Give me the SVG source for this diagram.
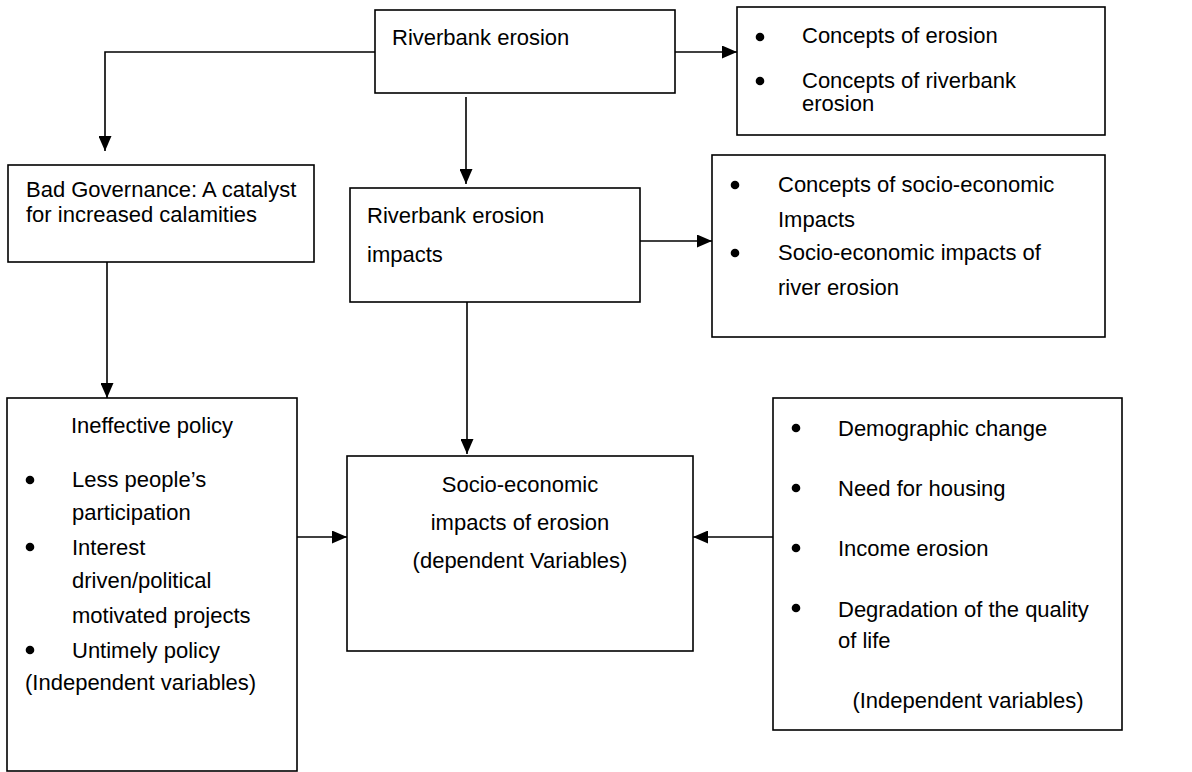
<svg xmlns="http://www.w3.org/2000/svg" width="1192" height="772" viewBox="0 0 1192 772">
<style>
  .box { fill: #ffffff; stroke: #000000; stroke-width: 1.6; }
  .t { font-family: "Liberation Sans", Arial, sans-serif; font-size: 22px; fill: #000000; }
  .c { text-anchor: middle; }
  .conn { fill: none; stroke: #000000; stroke-width: 1.6; marker-end: url(#arr); }
  .dot { fill: #000000; }
</style>
<defs>
  <marker id="arr" markerUnits="userSpaceOnUse" markerWidth="15" markerHeight="13" refX="15" refY="6.5" orient="auto">
    <path d="M0,0 L15,6.5 L0,13 Z" fill="#000000"/>
  </marker>
</defs>
<rect width="1192" height="772" fill="#ffffff"/>

<g id="connectors">
  <path class="conn" d="M375,52 H105 V151"/>
  <path class="conn" d="M466,97 V184"/>
  <path class="conn" d="M675,52 H737"/>
  <path class="conn" d="M640,241 H712"/>
  <path class="conn" d="M107,262 V398"/>
  <path class="conn" d="M467,302 V454"/>
  <path class="conn" d="M297,537 H347"/>
  <path class="conn" d="M773,537 H693"/>
</g>

<g id="riverbank-erosion">
  <rect class="box" x="375" y="10" width="300" height="83"/>
  <text class="t" x="392" y="45">Riverbank erosion</text>
</g>

<g id="concepts-erosion">
  <rect class="box" x="737" y="7" width="368" height="128"/>
  <circle class="dot" cx="760" cy="37" r="4.3"/>
  <text class="t" x="802" y="43">Concepts of erosion</text>
  <circle class="dot" cx="760" cy="81" r="4.3"/>
  <text class="t" x="802" y="88">Concepts of riverbank</text>
  <text class="t" x="802" y="111">erosion</text>
</g>

<g id="bad-governance">
  <rect class="box" x="8" y="165" width="306" height="97"/>
  <text class="t" x="26" y="197">Bad Governance: A catalyst</text>
  <text class="t" x="26" y="222">for increased calamities</text>
</g>

<g id="riverbank-impacts">
  <rect class="box" x="350" y="188" width="290" height="114"/>
  <text class="t" x="367" y="223">Riverbank erosion</text>
  <text class="t" x="367" y="262">impacts</text>
</g>

<g id="concepts-socio">
  <rect class="box" x="712" y="155" width="393" height="182"/>
  <circle class="dot" cx="735" cy="185" r="4.3"/>
  <text class="t" x="778" y="192">Concepts of socio-economic</text>
  <text class="t" x="778" y="227">Impacts</text>
  <circle class="dot" cx="735" cy="253" r="4.3"/>
  <text class="t" x="778" y="260">Socio-economic impacts of</text>
  <text class="t" x="778" y="295">river erosion</text>
</g>

<g id="ineffective-policy">
  <rect class="box" x="7" y="398" width="290" height="373"/>
  <text class="t c" x="152" y="433">Ineffective policy</text>
  <circle class="dot" cx="30" cy="480" r="4.3"/>
  <text class="t" x="72" y="487">Less people’s</text>
  <text class="t" x="72" y="520">participation</text>
  <circle class="dot" cx="30" cy="547" r="4.3"/>
  <text class="t" x="72" y="555">Interest</text>
  <text class="t" x="72" y="588">driven/political</text>
  <text class="t" x="72" y="623">motivated projects</text>
  <circle class="dot" cx="30" cy="650" r="4.3"/>
  <text class="t" x="72" y="658">Untimely policy</text>
  <text class="t" x="25" y="690">(Independent variables)</text>
</g>

<g id="socio-economic-impacts">
  <rect class="box" x="347" y="456" width="346" height="195"/>
  <text class="t c" x="520" y="492">Socio-economic</text>
  <text class="t c" x="520" y="530">impacts of erosion</text>
  <text class="t c" x="520" y="568">(dependent Variables)</text>
</g>

<g id="independent-factors">
  <rect class="box" x="773" y="398" width="349" height="332"/>
  <circle class="dot" cx="796" cy="428" r="4.3"/>
  <text class="t" x="838" y="436">Demographic change</text>
  <circle class="dot" cx="796" cy="488" r="4.3"/>
  <text class="t" x="838" y="496">Need for housing</text>
  <circle class="dot" cx="796" cy="548" r="4.3"/>
  <text class="t" x="838" y="556">Income erosion</text>
  <circle class="dot" cx="796" cy="608" r="4.3"/>
  <text class="t" x="838" y="617">Degradation of the quality</text>
  <text class="t" x="838" y="648">of life</text>
  <text class="t c" x="968" y="708">(Independent variables)</text>
</g>
</svg>
